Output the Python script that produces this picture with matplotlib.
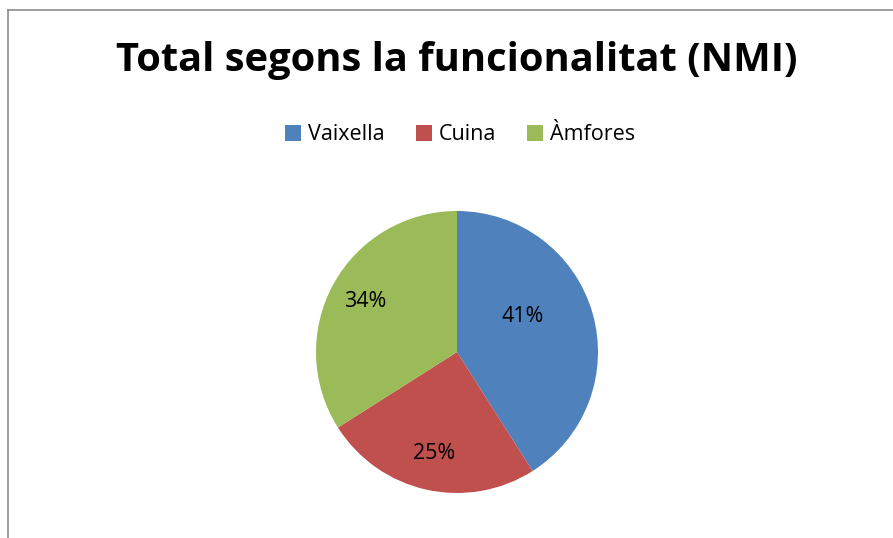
import numpy as np
import matplotlib
matplotlib.use("Agg")
import matplotlib.pyplot as plt
from matplotlib.lines import Line2D
from matplotlib.patches import Patch

# ---- data ----
categories = ["Vaixella", "Cuina", "Àmfores"]
shares = [41, 25, 34]
colors = ["#4F81BD", "#C0504D", "#9BBB59"]
title = "Total segons la funcionalitat (NMI)"

plt.rcParams["font.family"] = ["Open Sans", "DejaVu Sans"]

W, H = 893, 538
fig = plt.figure(figsize=(W / 100, H / 100), dpi=100)

# chart-area frame (left + top edge, gray)
fig.add_artist(Line2D([8 / W, 8 / W], [0, 1 - 10 / H], color="#8c8c8c", lw=1.2))
fig.add_artist(Line2D([8 / W, 1], [1 - 10 / H, 1 - 10 / H], color="#8c8c8c", lw=1.2))

fig.text(457 / W, 1 - 61 / H, title, ha="center", va="center",
         fontsize=28.7, fontweight="bold", color="black")

# pie
cx, cy, r = 457, 352, 141
ax = fig.add_axes([(cx - r) / W, (H - cy - r) / H, 2 * r / W, 2 * r / H])
wedges, texts, autotexts = ax.pie(
    shares, colors=colors, startangle=90, counterclock=False,
    autopct="%d%%", pctdistance=0.74, radius=1.0,
    textprops=dict(fontsize=15.5, color="black"))
ax.set_xlim(-1, 1)
ax.set_ylim(-1, 1)
ax.set_aspect("auto")
ax.axis("off")
# Excel put the first label a bit closer to the centre
ang = np.deg2rad(28)
autotexts[0].set_position((0.53 * np.cos(ang), 0.53 * np.sin(ang)))

handles = [Patch(facecolor=c, edgecolor="none") for c in colors]
fig.legend(handles, categories, loc="center", bbox_to_anchor=(460 / W, 1 - 135 / H),
           ncol=3, frameon=False, fontsize=15.5, handlelength=0.75, handleheight=0.75,
           handletextpad=0.3, columnspacing=1.45)

fig.savefig("out.png", dpi=100, facecolor="white")
